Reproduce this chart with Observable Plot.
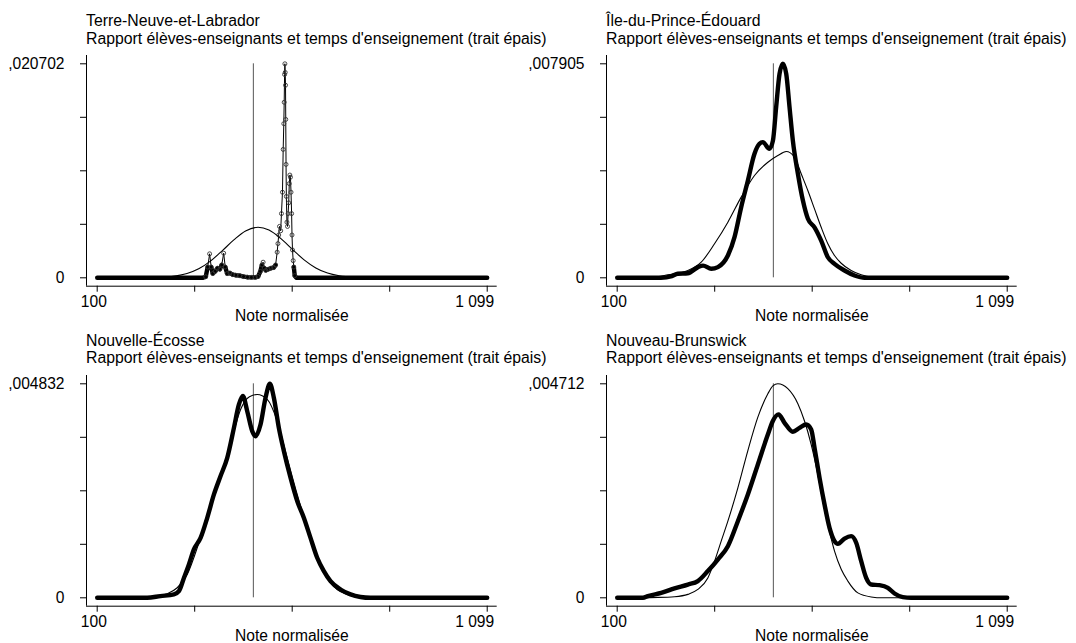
<!DOCTYPE html>
<html>
<head>
<meta charset="utf-8">
<script src="https://cdn.jsdelivr.net/npm/d3@7"></script>
<script src="https://cdn.jsdelivr.net/npm/@observablehq/plot@0.6"></script>
<style>
  html, body { margin: 0; padding: 0; background: #fff; }
  #root { position: relative; width: 1076px; height: 643px; overflow: hidden; font-family: "Liberation Sans", Arial, sans-serif; color: #000; }
  .panel { position: absolute; }
  .title { position: absolute; font-size: 15.8px; line-height: 17.7px; white-space: nowrap; color: #000; }
</style>
</head>
<body>
<div id="root"></div>
<script>
// ---------- data ----------
const regions = ["Terre-Neuve-et-Labrador", "Île-du-Prince-Édouard", "Nouvelle-Écosse", "Nouveau-Brunswick"];
const subtitle = "Rapport élèves-enseignants et temps d'enseignement (trait épais)";
const xLabel = "Note normalisée";
const yMax = [0.020702, 0.007905, 0.004832, 0.004712];
const yMaxLabels = [",020702", ",007905", ",004832", ",004712"];
const xTicks = [100, 349.75, 599.5, 849.25, 1099];
const xTickLabelLeft = "100";
const xTickLabelRight = "1 099";
const meanLine = [500, 500, 500, 500];

// Terre-Neuve-et-Labrador
const kdeTNL = [[100,0],[370,0],[378,0.0001],[383,0.00104],[388,0.00232],[392,0.00104],[396,0.00041],[402,0.00062],[408,0.00093],[414,0.00083],[419,0.00124],[424,0.00238],[428,0.00104],[433,0.00041],[440,0.00046],[447,0.00031],[455,0.00025],[465,0.00021],[475,0.00012],[485,0.00006],[495,0.00004],[505,0.00004],[512,0.00012],[518,0.00062],[522,0.00124],[525,0.00151],[528,0.00093],[532,0.00072],[538,0.00083],[545,0.00093],[552,0.00099],[557,0.00124],[561,0.00248],[563,0.00331],[565,0.00414],[567,0.00497],[570,0.00455],[572,0.00621],[574.6,0.00828],[576.4,0.01242],[578,0.01491],[579,0.01698],[580,0.01967],[580.8,0.020702],[581.6,0.01987],[582.4,0.01863],[583,0.01532],[583.7,0.01097],[584.5,0.00787],[586,0.00538],[587.5,0.00497],[589,0.00621],[590.5,0.00725],[592,0.00911],[593.5,0.00994],[595,0.00973],[596.5,0.00828],[598,0.00621],[599,0.00414],[600.3,0.00269],[602,0.00166],[603.6,0.00104],[606,0.00021],[610,0],[1099,0]];
const normTNL = [[100,0],[200,0.000003],[250,0.000029],[290,0.000124],[330,0.000414],[360,0.00087],[390,0.001615],[420,0.002608],[450,0.003664],[480,0.004534],[512,0.004886],[540,0.004617],[570,0.003809],[600,0.002753],[630,0.001739],[660,0.000952],[690,0.000455],[720,0.000195],[760,0.000052],[800,0.00001],[900,0],[1099,0]];

// Île-du-Prince-Édouard
const kdePEI = [[100,0],[212,0],[240,0.000063],[255,0.00015],[281,0.000166],[307,0.000395],[320,0.000451],[341,0.000332],[358,0.000395],[383.5,0.000822],[400.5,0.001502],[417.6,0.002609],[434.8,0.003597],[451.7,0.004585],[464.5,0.004949],[473,0.005012],[490,0.004767],[498.8,0.005059],[507.3,0.006324],[515.8,0.007533],[524.4,0.007905],[533,0.007533],[541.3,0.006324],[550,0.005059],[562.9,0.003842],[575.7,0.002854],[588.5,0.002182],[605.4,0.001866],[622.5,0.001375],[639.6,0.000759],[656.6,0.000514],[682.2,0.000269],[707.9,0.000087],[733.5,0],[1099,0]];
const normPEI = [[100,0],[190,0.000024],[229.8,0.000111],[281,0.000269],[315.2,0.000577],[349.3,0.001257],[383.5,0.002055],[417.6,0.00298],[451.7,0.003779],[486,0.004269],[511.5,0.004514],[532.9,0.004664],[554.2,0.004458],[571.3,0.003842],[588.3,0.003225],[605.4,0.002545],[622.5,0.001866],[639.6,0.001257],[656.6,0.000822],[673.7,0.000538],[699.3,0.000269],[724.9,0.000111],[750.5,0.000024],[790,0],[1099,0]];

// Nouvelle-Écosse
const kdeNS = [[100,0],[228,0],[262,0.000039],[296.5,0.000077],[309.3,0.00015],[322.1,0.000449],[334.9,0.000754],[347.7,0.001092],[364.8,0.001353],[381.9,0.001807],[399,0.002334],[416,0.002749],[433.1,0.00316],[450.2,0.003837],[463,0.004368],[473.2,0.004557],[484.3,0.004213],[497.1,0.003764],[505.6,0.003648],[518.4,0.003914],[531.2,0.004518],[542.3,0.004832],[552.5,0.004518],[565.3,0.003837],[578.1,0.003315],[595.2,0.002711],[612.3,0.002184],[629.3,0.001807],[646.4,0.001353],[663.5,0.000904],[680.6,0.000604],[697.6,0.000377],[723.3,0.000188],[748.9,0.000077],[774.5,0.000019],[800,0],[1099,0]];
const normNS = [[100,0],[240,0],[245.2,0.000029],[279.4,0.000092],[305,0.000227],[330.6,0.000527],[356.3,0.001131],[382,0.001884],[407.7,0.002561],[433.1,0.003237],[450.2,0.003769],[467.3,0.004252],[490,0.004542],[509.9,0.00459],[535.5,0.004479],[561.1,0.003991],[586.6,0.00316],[612.3,0.002334],[637.9,0.00158],[663.5,0.000904],[689.1,0.000449],[714.7,0.000188],[740.3,0.000077],[774.5,0.000019],[800,0],[1099,0]];

// Nouveau-Brunswick
const kdeNB = [[100,0],[166,0],[178.6,0.000038],[212.7,0.000108],[246.9,0.000207],[281,0.000292],[306.6,0.000368],[332.2,0.000589],[357.8,0.000843],[383.5,0.001136],[409.1,0.001687],[434.7,0.002276],[460.3,0.002936],[485.9,0.003595],[498.7,0.003892],[513.2,0.004038],[528.6,0.003854],[549.9,0.003657],[567,0.003741],[584.1,0.003817],[596.9,0.003708],[605.5,0.003303],[618.3,0.002643],[631.1,0.002054],[643.9,0.001541],[656.7,0.001249],[665.2,0.001187],[682.3,0.001305],[699.4,0.001357],[712.2,0.001211],[725,0.000806],[737.8,0.000438],[750.6,0.000292],[771.9,0.000278],[793.3,0.000221],[810.4,0.000094],[831.7,0.000014],[853,0],[1099,0]];
const normNB = [[100,0],[204.2,0.000009],[246.9,0.000024],[281,0.000075],[306.6,0.000184],[332.2,0.000438],[349.3,0.000806],[366.4,0.001249],[383.5,0.001687],[409.1,0.002422],[434.7,0.003242],[460.3,0.003977],[485.9,0.004491],[498.7,0.004665],[511.5,0.004712],[537.1,0.004604],[562.8,0.004274],[579.8,0.003892],[596.8,0.003379],[613.9,0.002714],[626.7,0.00213],[639.6,0.001616],[656.7,0.001027],[673.8,0.000627],[690.8,0.000368],[716.4,0.000108],[750.6,0.000019],[780,0],[1099,0]];

const kdes = [kdeTNL, kdePEI, kdeNS, kdeNB];
const norms = [normTNL, normPEI, normNS, normNB];

// ---------- layout ----------
const root = document.getElementById("root");
const panelLeft = [0, 520, 0, 520];
const panelTop = [45, 45, 364.5, 364.5];
const xDomain = [72.6, 1124.6];
const FONT = '"Liberation Sans", Arial, sans-serif';

function makePanel(i) {
  const M = yMax[i];
  const yDomain = [-0.03925 * M, 1.03879 * M];
  const yTicks = [0, M * 0.25, M * 0.5, M * 0.75, M];
  const X = d => d[0], Y = d => d[1];
  const marks = [
    Plot.ruleX([xDomain[0]], {stroke: "#000", strokeWidth: 1}),
    Plot.ruleY([yDomain[0]], {stroke: "#000", strokeWidth: 1}),
    Plot.axisY({ticks: yTicks, tickSize: 6, tickPadding: 16, label: null,
      tickFormat: d => d === 0 ? "0" : d === M ? yMaxLabels[i] : ""}),
    Plot.axisX({ticks: xTicks, tickSize: 6, label: null, tickFormat: () => ""}),
    Plot.axisX({ticks: [xTicks[0]], tickSize: 0, tickPadding: 9.3, dx: -3.4, label: null, tickFormat: () => xTickLabelLeft}),
    Plot.axisX({ticks: [xTicks[4]], tickSize: 0, tickPadding: 9.3, dx: -12.5, label: null, tickFormat: () => xTickLabelRight}),
    Plot.text([xLabel], {text: d => d, frameAnchor: "bottom", lineAnchor: "bottom", dy: 35, fill: "#000"}),
    Plot.ruleX([meanLine[i]], {y1: 0, y2: M, stroke: "#555", strokeWidth: 1}),
    Plot.line(norms[i], {x: X, y: Y, stroke: "#000", strokeWidth: 1.1, curve: "monotone-x"})
  ];
  if (i === 0) {
    marks.push(
      Plot.line(kdes[i], {x: X, y: d => d[1] <= 0.0013 ? d[1] : NaN, stroke: "#000", strokeWidth: 4.4, strokeLinecap: "round", strokeLinejoin: "round"}),
      Plot.line(kdes[i], {x: X, y: Y, stroke: "#000", strokeWidth: 1}),
      Plot.dot(kdes[i].filter(d => d[1] > 0), {x: X, y: Y, r: 2, fill: "none", stroke: "#333", strokeWidth: 0.9})
    );
  } else {
    marks.push(
      Plot.line(kdes[i], {x: X, y: Y, stroke: "#000", strokeWidth: 4.4, curve: "monotone-x", strokeLinecap: "round", strokeLinejoin: "round"})
    );
  }
  const svg = Plot.plot({
    width: 520, height: 278,
    marginLeft: 86, marginRight: 23.3, marginTop: 10, marginBottom: 37.3,
    x: {domain: xDomain},
    y: {domain: yDomain},
    style: {fontFamily: FONT, fontSize: "15.6px", color: "#000", background: "transparent", overflow: "visible"},
    marks
  });
  const wrap = document.createElement("div");
  wrap.className = "panel";
  wrap.style.left = panelLeft[i] + "px";
  wrap.style.top = panelTop[i] + "px";
  wrap.appendChild(svg);
  root.appendChild(wrap);

  const t = document.createElement("div");
  t.className = "title";
  t.style.left = (panelLeft[i] + 86) + "px";
  t.style.top = (panelTop[i] - 33) + "px";
  const l1 = document.createElement("div"); l1.textContent = regions[i];
  const l2 = document.createElement("div"); l2.textContent = subtitle;
  t.appendChild(l1); t.appendChild(l2);
  root.appendChild(t);
}
for (let i = 0; i < 4; i++) makePanel(i);
</script>
</body>
</html>
